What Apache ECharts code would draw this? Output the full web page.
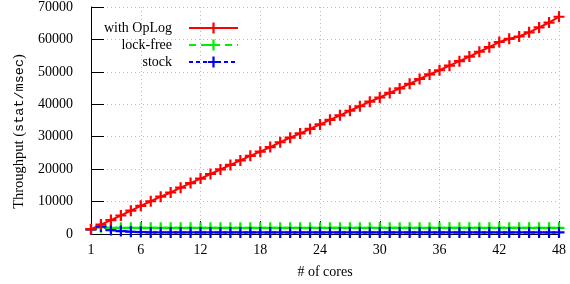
<!DOCTYPE html>
<html>
<head>
<meta charset="utf-8">
<script src="https://cdn.jsdelivr.net/npm/echarts@6/dist/echarts.min.js"></script>
<style>
  html, body { margin: 0; padding: 0; background: #fff; }
  #chart { width: 570px; height: 284px; }
</style>
</head>
<body>
<div id="chart"></div>
<script>
const cores = []
for (let i = 1; i <= 48; i++) cores.push(String(i))

const withOpLog = [
  1500, 2900, 4300, 5700, 7200, 8700, 10100, 11500, 12800, 14300,
  15700, 17100, 18500, 19900, 21300, 22700, 24100, 25400, 26800, 28300,
  29700, 31000, 32400, 33800, 35200, 36600, 38000, 39400, 40800, 42100,
  43500, 44900, 46300, 47800, 49200, 50500, 51900, 53300, 54700, 56200,
  57600, 59200, 60200, 60900, 62200, 63700, 65200, 67000
]
const lockFree = [
  1400, 2100, 1900, 1900, 1900, 1900, 1900, 1900, 1900, 1900,
  1900, 1900, 1900, 1900, 1900, 1900, 1900, 1900, 1900, 1900,
  1900, 1900, 1900, 1900, 1900, 1900, 1900, 1900, 1900, 1900,
  1900, 1900, 1900, 1900, 1900, 1900, 1900, 1900, 1900, 1900,
  1900, 1900, 1900, 1900, 1900, 1900, 1900, 1900
]
const stock = [
  1400, 2300, 1200, 900, 700, 600, 500, 500, 500, 500,
  500, 500, 500, 500, 500, 500, 500, 500, 500, 500,
  500, 500, 500, 500, 500, 500, 500, 500, 500, 500,
  500, 500, 500, 500, 500, 500, 500, 500, 500, 500,
  500, 500, 500, 500, 500, 500, 500, 500
]
const xTickCores = ['1', '6', '12', '18', '24', '30', '36', '42', '48']

const serif = '"Liberation Serif", "DejaVu Serif", serif'
const plus = 'path://M4.8,0h2.4v4.8h4.8v2.4h-4.8v4.8h-2.4v-4.8h-4.8v-2.4h4.8z'
const showTick = (i, v) => xTickCores.includes(v)

function mkSeries(name, data, color, dash) {
  return {
    name,
    type: 'line',
    data,
    symbol: plus,
    symbolSize: 11,
    showAllSymbol: true,
    color,
    lineStyle: { color, width: 2, type: dash },
    itemStyle: { color },
    animation: false
  }
}

const chart = echarts.init(document.getElementById('chart'))
chart.setOption({
  animation: false,
  textStyle: { fontFamily: serif },
  grid: { left: 91, right: 11, top: 6, bottom: 50 },
  legend: {
    orient: 'vertical',
    align: 'right',
    right: 331,
    top: 21,
    padding: 0,
    itemWidth: 49,
    itemHeight: 14,
    itemGap: 3,
    formatter: '{t|{name}}',
    textStyle: {
      rich: {
        t: { fontFamily: serif, fontSize: 14, color: '#000', padding: [0, 12, 0, 0] }
      }
    },
    data: ['with OpLog', 'lock-free', 'stock']
  },
  xAxis: {
    type: 'category',
    data: cores,
    boundaryGap: false,
    name: '# of cores',
    nameLocation: 'middle',
    nameGap: 31,
    nameTextStyle: { fontFamily: serif, fontSize: 14, color: '#000' },
    axisLine: { lineStyle: { color: '#000', width: 1 } },
    axisTick: { inside: true, length: 13, interval: showTick, lineStyle: { color: '#000' } },
    axisLabel: { interval: showTick, margin: 9, fontFamily: serif, fontSize: 14, color: '#000' },
    splitLine: {
      show: true,
      interval: showTick,
      lineStyle: { color: '#bbb', type: [1, 3], width: 1 }
    }
  },
  yAxis: {
    type: 'value',
    min: 0,
    max: 70000,
    interval: 10000,
    name: '{a|Throughput (}{b|stat/msec}{c|)}',
    nameLocation: 'middle',
    nameGap: 64,
    nameTextStyle: {
      rich: {
        a: { fontFamily: serif, fontSize: 14.5, color: '#000' },
        b: { fontFamily: '"Liberation Mono", "DejaVu Sans Mono", monospace', fontSize: 13.5, color: '#000' },
        c: { fontFamily: serif, fontSize: 14.5, color: '#000', padding: [0, 22, 0, 0] }
      }
    },
    axisLine: { show: true, lineStyle: { color: '#000', width: 1 } },
    axisTick: { show: true, inside: true, length: 13, lineStyle: { color: '#000' } },
    axisLabel: { margin: 18, fontFamily: serif, fontSize: 14, color: '#000', formatter: v => String(v) },
    splitLine: { lineStyle: { color: '#bbb', type: [1, 3], width: 1 } }
  },
  series: [
    mkSeries('lock-free', lockFree, '#00ee00', [7, 5]),
    mkSeries('stock', stock, '#0000ff', [4, 3]),
    mkSeries('with OpLog', withOpLog, '#ff0000', 'solid')
  ]
})
</script>
</body>
</html>
